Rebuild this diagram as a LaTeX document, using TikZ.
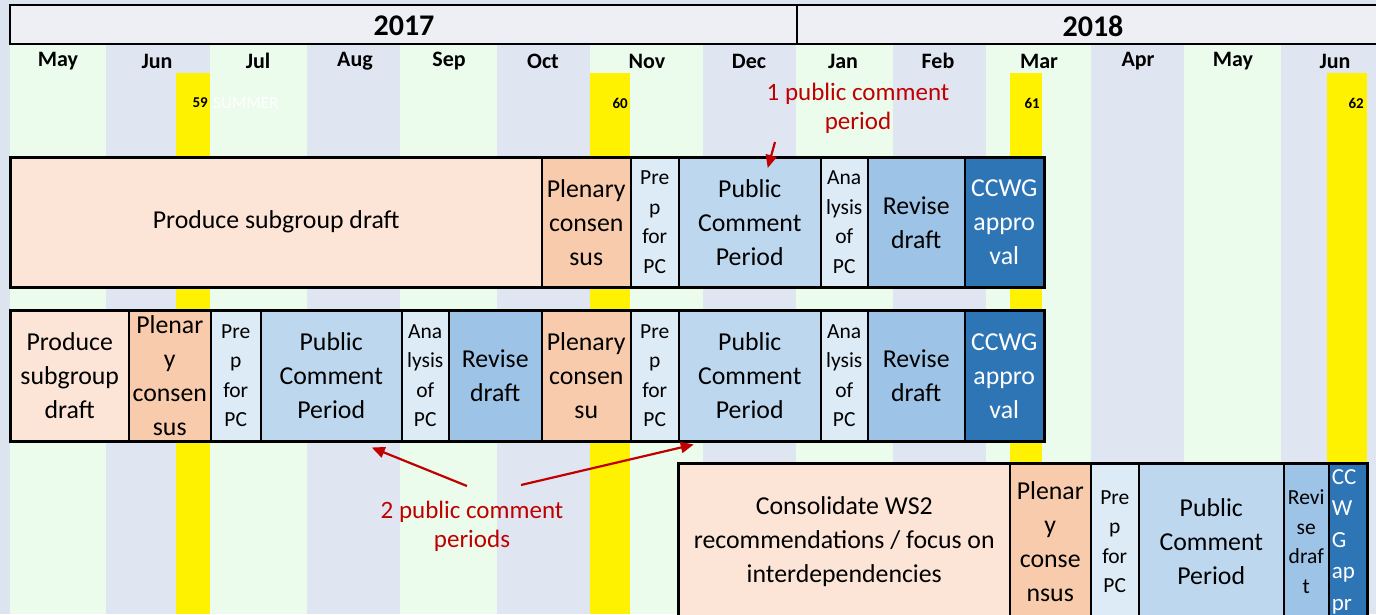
\documentclass[tikz,border=0pt]{standalone}
\usepackage{fontspec}
\setmainfont{Carlito}
\usetikzlibrary{arrows.meta}
\definecolor{bgcol}{HTML}{DCE4EF}
\definecolor{colG}{HTML}{EBFCEC}
\definecolor{colB}{HTML}{E0E6F1}
\definecolor{hdr}{HTML}{EDEFF5}
\definecolor{peach}{HTML}{FCE4D6}
\definecolor{orng}{HTML}{F8CBAD}
\definecolor{lblue}{HTML}{DDEBF7}
\definecolor{mblue}{HTML}{BDD7EE}
\definecolor{rblue}{HTML}{9DC3E6}
\definecolor{dblue}{HTML}{2E75B6}
\definecolor{redc}{HTML}{C00000}
\newcommand\bigtxt{\fontsize{25.8}{34}\selectfont}
\newcommand\smtxt{\fontsize{21.5}{29.5}\selectfont}
\newcommand\mycell[7]{\node[cell,#6,minimum width={#3pt-#2pt},minimum height={#5pt-#4pt}] (#1) at (#2,#4) {#7};}
\tikzset{
  cell/.style={draw=black, line width=1.5pt, anchor=north west, inner sep=0pt, align=center, font=\bigtxt},
  sm/.style={font=\smtxt},
  pch/.style={fill=peach}, org/.style={fill=orng}, lb/.style={fill=lblue},
  mb/.style={fill=mblue}, rb/.style={fill=rblue}, db/.style={fill=dblue, text=white},
  month/.style={font=\fontsize{22}{24}\selectfont\bfseries},
  year/.style={font=\fontsize{30}{32}\selectfont\bfseries},
  num/.style={font=\fontsize{15}{17}\selectfont\bfseries, anchor=east, inner sep=0pt},
  redtxt/.style={text=redc, font=\fontsize{25}{29}\selectfont, align=center},
  redarr/.style={draw=redc, line width=2.2pt, -{Triangle[length=13pt,width=11pt]}},
  outer/.style={draw=black, line width=3pt}
}
\begin{document}
\begin{tikzpicture}[x=1pt,y=-1pt]
\useasboundingbox (0,0) rectangle (1376,614);
\clip (0,0) rectangle (1376,614);
\fill[bgcol] (0,0) rectangle (1376,614);
% month columns
\foreach \a/\b/\c in {10/106/colG,106/210/colB,210/307/colG,307/400/colB,400/497/colG,497/590/colB,590/703/colG,703/796/colB,796/893/colG,893/986/colB,986/1091/colG,1091/1184/colB,1184/1281/colG,1281/1376/colB}
  \fill[\c] (\a,44) rectangle (\b,614);
% year header
\fill[hdr] (10,5) rectangle (1376,44);
\draw[line width=2.5pt] (1377,5) -- (10,5) -- (10,44) -- (1377,44);
\draw[line width=2.5pt] (797,5) -- (797,44);
\node[year] (y17) at (404,26) {2017};
\node[year] (y18) at (1093,26) {2018};
% months
\foreach \x/\m [count=\i] in {58/May,157/Jun,258/Jul,355/Aug,449/Sep,543/Oct,647/Nov,749/Dec,843/Jan,938/Feb,1039/Mar,1138/Apr,1233/May,1335/Jun}
  \node[month] (m\i) at (\x,61) {\m};
% yellow bars
\foreach \a/\b in {176/210,590/630,1010/1042,1327/1367}
  \fill[yellow] (\a,73) rectangle (\b,614);
\node[num] (n59) at (208,103) {59};
\node[num] (n60) at (628,103) {60};
\node[num] (n61) at (1040,103) {61};
\node[num] (n62) at (1364,103) {62};
\node[text=white, font=\fontsize{17}{19}\selectfont, anchor=west, inner sep=0pt] (summer) at (213,103) {SUMMER};
% row 1
\mycell{r1a}{10}{541}{157}{286}{pch}{Produce subgroup draft}
\mycell{r1b}{541}{630}{157}{286}{org}{Plenary\\consen\\sus}
\mycell{r1c}{630}{678}{157}{286}{lb,sm}{Pre\\p\\for\\PC}
\mycell{r1d}{678}{820}{157}{286}{mb}{Public\\Comment\\Period}
\mycell{r1e}{820}{867}{157}{286}{lb,sm}{Ana\\lysis\\of\\PC}
\mycell{r1f}{867}{964}{157}{286}{rb}{Revise\\draft}
\mycell{r1g}{964}{1043}{157}{286}{db}{CCWG\\appro\\val}
\draw[outer] (r1a.north west) rectangle (r1g.south east);
% row 2
\mycell{r2a}{10}{128}{310}{440}{pch}{Produce\\subgroup\\draft}
\mycell{r2b}{128}{210}{310}{440}{org}{Plenar\\y\\consen\\sus}
\mycell{r2c}{210}{260}{310}{440}{lb,sm}{Pre\\p\\for\\PC}
\mycell{r2d}{260}{401}{310}{440}{mb}{Public\\Comment\\Period}
\mycell{r2e}{401}{448}{310}{440}{lb,sm}{Ana\\lysis\\of\\PC}
\mycell{r2f}{448}{541}{310}{440}{rb}{Revise\\draft}
\mycell{r2g}{541}{630}{310}{440}{org}{Plenary\\consen\\su}
\mycell{r2h}{630}{678}{310}{440}{lb,sm}{Pre\\p\\for\\PC}
\mycell{r2i}{678}{820}{310}{440}{mb}{Public\\Comment\\Period}
\mycell{r2j}{820}{867}{310}{440}{lb,sm}{Ana\\lysis\\of\\PC}
\mycell{r2k}{867}{964}{310}{440}{rb}{Revise\\draft}
\mycell{r2l}{964}{1043}{310}{440}{db}{CCWG\\appro\\val}
\draw[outer] (r2a.north west) rectangle (r2l.south east);
% row 3
\mycell{r3a}{678}{1009}{463}{619}{pch}{Consolidate WS2\\recommendations / focus on\\interdependencies}
\mycell{r3b}{1009}{1090}{463}{619}{org}{Plenar\\y\\conse\\nsus}
\mycell{r3c}{1090}{1138}{463}{619}{lb,sm}{Pre\\p\\for\\PC}
\mycell{r3d}{1138}{1283}{463}{619}{mb}{Public\\Comment\\Period}
\mycell{r3e}{1283}{1328}{463}{619}{rb,sm}{Revi\\se\\draf\\t}
\mycell{r3f}{1328}{1366}{463}{619}{db,font=\fontsize{23}{31.5}\selectfont,align=left,text width=36pt}{\hspace*{2pt}CC\\\hspace*{2pt}W\\\hspace*{2pt}G\\\hspace*{2pt}ap\\\hspace*{2pt}pr}
\draw[outer] (r3a.north west) rectangle (r3f.south east);
% annotations
\node[redtxt] (lbl1) at (858,108) {1 public comment\\period};
\coordinate (a1s) at (775,142);
\draw[redarr] (a1s) -- ([xshift=18pt,yshift=-11pt]r1d.north);
\node[redtxt] (lbl2) at (472,526) {2 public comment\\periods};
\coordinate (a2s) at (467,486);
\coordinate (a3s) at (521,485);
\draw[redarr] (a2s) -- ([xshift=40.5pt,yshift=-6pt]r2d.south);
\draw[redarr] (a3s) -- ([xshift=-56pt,yshift=-3pt]r2i.south);
\end{tikzpicture}
\end{document}
